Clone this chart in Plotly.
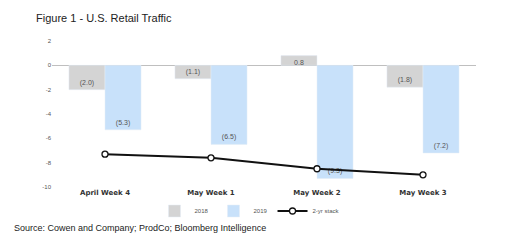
import plotly.graph_objects as go

categories = ["April Week 4", "May Week 1", "May Week 2", "May Week 3"]
y2018 = [-2.0, -1.1, 0.8, -1.8]
y2019 = [-5.3, -6.5, -9.3, -7.2]
stack = [-7.3, -7.6, -8.5, -9.0]
tick_vals = [2, 0, -2, -4, -6, -8, -10]
tick_text = ["2", "0", "-2", "-4", "-6", "-8", "-10"]

def fmt(v):
    return f"({abs(v):.1f})" if v < 0 else f"{v:.1f}"

fig = go.Figure()
fig.add_trace(go.Bar(x=categories, y=y2018, name="2018", marker_color="#d4d4d4",
                     text=[fmt(v) for v in y2018], textposition="inside",
                     insidetextanchor="end", textangle=0,
                     textfont=dict(size=7, color="#555555", family="Liberation Sans")))
fig.add_trace(go.Bar(x=categories, y=y2019, name="2019", marker_color="#c8e1fa",
                     text=[fmt(v) for v in y2019], textposition="inside",
                     insidetextanchor="end", textangle=0,
                     textfont=dict(size=7, color="#555555", family="Liberation Sans")))
fig.add_trace(go.Scatter(x=categories, y=stack, name="2-yr stack", mode="lines+markers",
                         line=dict(color="#111111", width=2),
                         marker=dict(symbol="circle", size=6, color="white",
                                     line=dict(color="#111111", width=1.3))))

# page body has an 8px margin; figure coordinates are relative to that offset
OFF = 8
W, H = 526 - OFF, 242 - OFF
PL, PR, PT, PB = 52 - OFF, 476 - OFF, 41 - OFF, 187 - OFF
PW, PH = PR - PL, PB - PT

fig.update_layout(
    width=W, height=H,
    margin=dict(l=PL, r=W - PR, t=PT, b=H - PB, autoexpand=False),
    paper_bgcolor="white", plot_bgcolor="white",
    barmode="group", bargap=0.32, bargroupgap=0,
    uniformtext=dict(minsize=7, mode="show"),
    showlegend=True,
    legend=dict(orientation="h", x=(250 - OFF - PL) / PW, xanchor="center",
                y=-(211 - 187) / PH, yanchor="middle",
                font=dict(size=6, color="#555555", family="Liberation Sans"),
                itemwidth=30, tracegroupgap=0, traceorder="normal", bgcolor="rgba(0,0,0,0)"),
    font=dict(family="Liberation Sans"),
    annotations=[
        dict(text="Figure 1 - U.S. Retail Traffic", xref="paper", yref="paper",
             x=(34 - 52) / PW, y=1 + (41 - 18) / PH, xanchor="left", yanchor="middle",
             showarrow=False, font=dict(size=11, color="#222222", family="Liberation Sans")),
        dict(text="Source: Cowen and Company; ProdCo; Bloomberg Intelligence", xref="paper", yref="paper",
             x=(12 - 52) / PW, y=-(228 - 187) / PH, xanchor="left", yanchor="middle",
             showarrow=False, font=dict(size=9, color="#222222", family="Liberation Sans")),
    ],
)
fig.update_xaxes(showgrid=False, showline=False, ticks="", side="bottom",
                 tickfont=dict(size=7, color="#333333", family="DejaVu Sans"),
                 tickprefix="<b>", ticksuffix="</b>")
fig.update_yaxes(range=[-10, 2], tickvals=tick_vals, ticktext=tick_text, showgrid=False,
                 zeroline=True, zerolinecolor="#bfbfbf", zerolinewidth=1,
                 tickfont=dict(size=6, color="#555555", family="Liberation Sans"),
                 ticks="", showline=False)
fig.write_html("out.html")
